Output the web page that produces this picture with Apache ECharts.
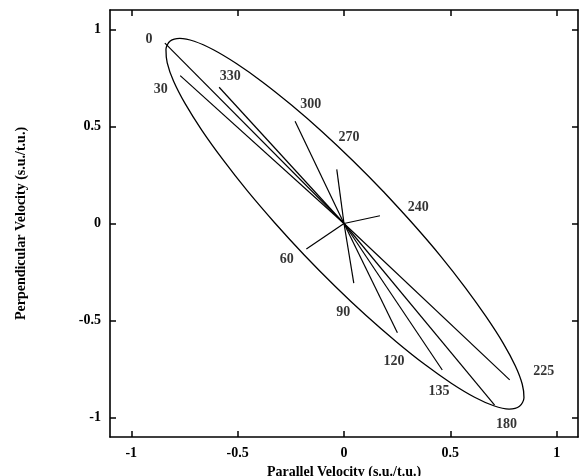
<!DOCTYPE html>
<html>
<head>
<meta charset="utf-8">
<script src="https://cdn.jsdelivr.net/npm/echarts@6/dist/echarts.min.js"></script>
<style>
  html, body { margin: 0; padding: 0; background: #fff; }
  #chart { width: 581px; height: 476px; }
</style>
</head>
<body>
<div id="chart"></div>
<script>
// ray labels (angle in degrees) and ray end points, rays start at the origin
const rayNames = ["0", "30", "330", "300", "270", "240", "60", "90", "120", "135", "180", "225"];
const rayEndX = [-0.842, -0.770, -0.587, -0.230, -0.034, 0.169, -0.177, 0.046, 0.251, 0.462, 0.708, 0.779];
const rayEndY = [0.929, 0.762, 0.702, 0.527, 0.279, 0.040, -0.131, -0.307, -0.563, -0.755, -0.936, -0.806];

// where each angle label sits
const labelX = [-0.917, -0.861, -0.535, -0.156, 0.023, 0.349, -0.269, -0.003, 0.235, 0.446, 0.764, 0.939];
const labelY = [0.946, 0.690, 0.756, 0.613, 0.442, 0.083, -0.184, -0.457, -0.709, -0.864, -1.033, -0.762];

// outline of the ellipse, read around the curve (starts mid way on the upper right side)
const ellipseX = [0.187, 0.326, 0.455, 0.570, 0.668, 0.748, 0.805, 0.838, 0.846, 0.825, 0.776, 0.704, 0.614, 0.506, 0.382, 0.247, 0.104, -0.042,
  -0.187, -0.326, -0.455, -0.570, -0.668, -0.746, -0.801, -0.831, -0.837, -0.817, -0.772, -0.704, -0.614, -0.506, -0.382, -0.247, -0.104, 0.042];
const ellipseY = [0.162, -0.004, -0.169, -0.330, -0.480, -0.616, -0.733, -0.828, -0.898, -0.942, -0.956, -0.939, -0.895, -0.824, -0.728, -0.610, -0.474, -0.323,
  -0.162, 0.004, 0.169, 0.330, 0.480, 0.616, 0.733, 0.828, 0.898, 0.940, 0.954, 0.939, 0.895, 0.824, 0.728, 0.610, 0.474, 0.323];

const tickValues = [-1, -0.5, 0, 0.5, 1];

const font = "Liberation Serif";
const chart = echarts.init(document.getElementById("chart"));

// close the loop, repeat two points so the smoothing has no kink
const ellipseData = ellipseX.map((x, i) => [x, ellipseY[i]]);
ellipseData.push(ellipseData[0], ellipseData[1]);

const rayData = rayEndX.map((x, i) => ({ coords: [[0, 0], [x, rayEndY[i]]] }));
const labelData = labelX.map((x, i) => ({ value: [x, labelY[i]], name: rayNames[i] }));

const textStyle = { color: "#000", fontFamily: font, fontSize: 14, fontWeight: "bold" };

function axisBase(pos, showLabel) {
  return {
    type: "value",
    position: pos,
    min: -1.1,
    max: 1.1,
    splitLine: { show: false },
    axisLine: { onZero: false, lineStyle: { color: "#000", width: 1.6 } },
    axisTick: { inside: true, length: 6, customValues: tickValues, lineStyle: { color: "#000", width: 1.5 } },
    axisLabel: Object.assign({ show: showLabel, customValues: tickValues, margin: 9 }, textStyle),
  };
}

const xBottom = axisBase("bottom", true);
xBottom.name = "Parallel Velocity (s.u./t.u.)";
xBottom.nameLocation = "middle";
xBottom.nameGap = 24;
xBottom.nameTextStyle = textStyle;

const yLeft = axisBase("left", true);
yLeft.name = "Perpendicular Velocity (s.u./t.u.)";
yLeft.nameLocation = "middle";
yLeft.nameGap = 82;
yLeft.nameTextStyle = textStyle;

chart.setOption({
  animation: false,
  grid: { left: 110, right: 3, top: 10, bottom: 39, outerBoundsMode: "none" },
  xAxis: [xBottom, axisBase("top", false)],
  yAxis: [yLeft, axisBase("right", false)],
  series: [
    {
      type: "line",
      data: ellipseData,
      smooth: 0.3,
      symbol: "none",
      lineStyle: { color: "#000", width: 1.3 },
    },
    {
      type: "lines",
      coordinateSystem: "cartesian2d",
      data: rayData,
      lineStyle: { color: "#000", width: 1.2, opacity: 1 },
    },
    {
      type: "scatter",
      data: labelData,
      symbolSize: 1,
      itemStyle: { color: "transparent" },
      label: Object.assign({
        show: true,
        position: "inside",
        formatter: (p) => p.name,
      }, textStyle),
    },
  ],
});
</script>
</body>
</html>
